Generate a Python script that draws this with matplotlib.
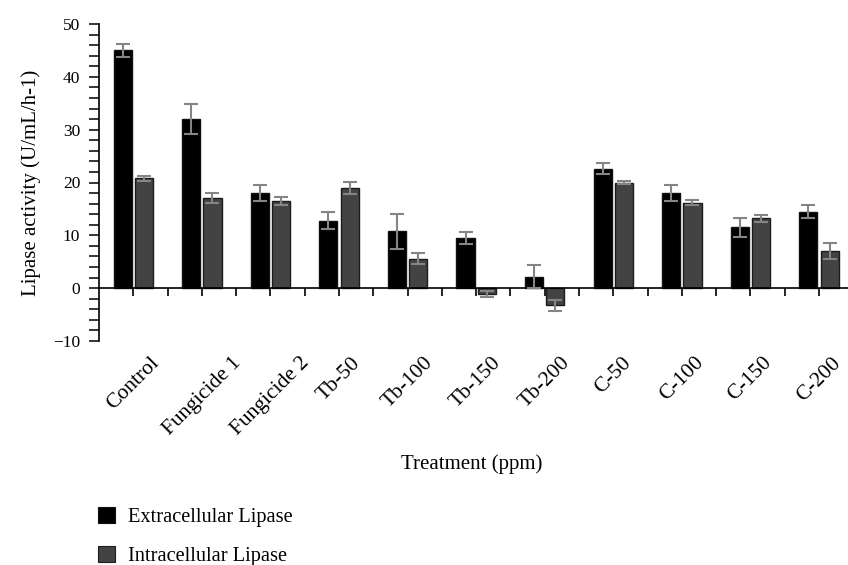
import numpy as np
import matplotlib
matplotlib.use("Agg")
import matplotlib.pyplot as plt
from matplotlib.patches import Patch
from matplotlib.ticker import MultipleLocator

plt.rcParams['font.family'] = ['Liberation Serif', 'DejaVu Serif']

categories = ["Control", "Fungicide 1", "Fungicide 2", "Tb-50", "Tb-100", "Tb-150",
              "Tb-200", "C-50", "C-100", "C-150", "C-200"]
extracellular = [45.0, 32.0, 18.0, 12.8, 10.8, 9.5, 2.2, 22.6, 18.0, 11.5, 14.5]
extracellular_err = [1.3, 2.9, 1.45, 1.6, 3.3, 1.2, 2.1, 1.0, 1.45, 1.8, 1.2]
intracellular = [20.8, 17.1, 16.5, 19.0, 5.6, -1.1, -3.2, 20.0, 16.2, 13.2, 7.0]
intracellular_err = [0.5, 0.9, 0.8, 1.15, 1.0, 0.5, 1.05, 0.3, 0.55, 0.7, 1.5]
series_names = ["Extracellular Lipase", "Intracellular Lipase"]
colors = ["#000000", "#434343"]

W, H = 848, 565
fig = plt.figure(figsize=(W / 100, H / 100), dpi=100)
ax = fig.add_axes([99 / W, (H - 341) / H, (853.3 - 99) / W, (341 - 24) / H])

x = np.arange(len(categories))
bw = 0.265
off = 0.155
err_kw = dict(ecolor="#858585", elinewidth=1.5, capsize=4.7, capthick=1.5, zorder=3)
ax.bar(x - off, extracellular, bw, color=colors[0], edgecolor="#111111", linewidth=1.0,
       yerr=extracellular_err, error_kw=err_kw, zorder=2)
ax.bar(x + off, intracellular, bw, color=colors[1], edgecolor="#1c1c1c", linewidth=1.0,
       yerr=intracellular_err, error_kw=err_kw, zorder=2)

ax.set_xlim(-0.5, len(categories) - 0.5)
ax.set_ylim(-10, 50)
for s in ("top", "right"):
    ax.spines[s].set_visible(False)
ax.spines["bottom"].set_position(("data", 0))
ax.spines["bottom"].set_linewidth(1.2)
ax.spines["left"].set_linewidth(1.2)

ax.set_xticks(x)
ax.set_xticks(x + 0.5, minor=True)
ax.tick_params(axis="x", which="both", direction="out", length=6, width=1.2,
               labelbottom=False)
ax.yaxis.set_major_locator(MultipleLocator(10))
ax.yaxis.set_minor_locator(MultipleLocator(2))
ax.tick_params(axis="y", which="both", direction="out", length=7, width=1.1,
               labelsize=12.5, pad=6.5)
ax.set_yticks(np.arange(-10, 51, 10))
ax.set_yticklabels([("\u2212" + str(-v)) if v < 0 else str(v) for v in range(-10, 51, 10)])

sec = ax.secondary_xaxis("bottom")
sec.set_xticks(x, categories, rotation=45, ha="center")
sec.tick_params(length=0, pad=9, labelsize=15.5)
sec.spines["bottom"].set_visible(False)

ax.set_ylabel("Lipase activity (U/mL/h-1)", fontsize=15, labelpad=9)
fig.text(472 / W, 1 - 464 / H, "Treatment (ppm)", ha="center", va="center", fontsize=15)

handles = [Patch(facecolor=colors[0], edgecolor="#111111", linewidth=0.8),
           Patch(facecolor=colors[1], edgecolor="#1c1c1c", linewidth=0.8)]
fig.legend(handles, series_names, loc="upper left", bbox_to_anchor=(98 / W, 1 - 507 / H),
           frameon=False, fontsize=14.7, handlelength=0.81, handleheight=0.81,
           handletextpad=0.64, labelspacing=0.94, borderaxespad=0, borderpad=0)

fig.savefig("out.png", dpi=100)
